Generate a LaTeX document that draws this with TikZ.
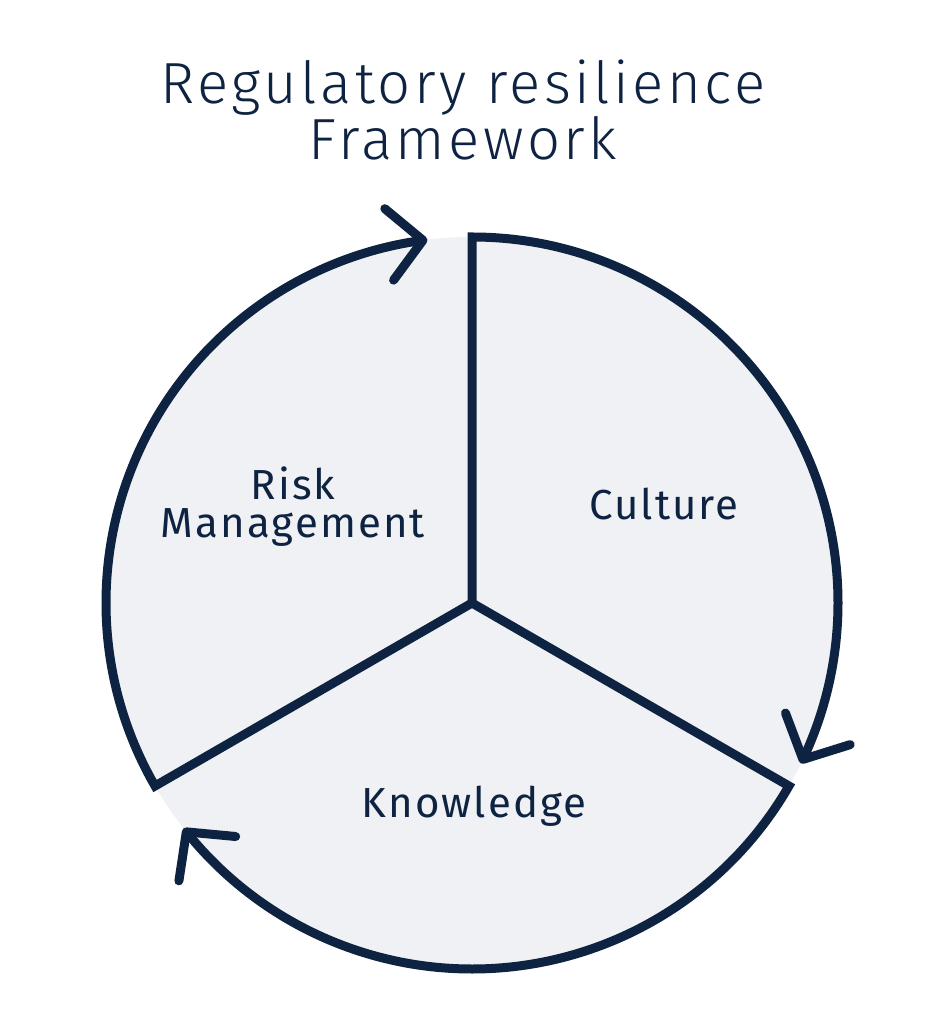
\documentclass[tikz,border=0pt]{standalone}
\usepackage{fontspec}
\setmainfont{Fira Sans}
\newfontfamily\titlefont[LetterSpace=6]{Fira Sans Light}
\newfontfamily\labelfont[LetterSpace=5]{Fira Sans}
\usetikzlibrary{arrows.meta,bending}
\definecolor{navy}{HTML}{0E2341}
\definecolor{panel}{HTML}{EFF1F4}

\begin{document}
\begin{tikzpicture}[x=1pt, y=1pt, line width=9pt,
    spoke/.style={draw=navy, -{Straight Barb[length=34pt, width=72pt, round, flex]}},
    lbl/.style={text=navy, font=\labelfont\fontsize{42}{38}\selectfont, align=center},
    ttl/.style={text=navy, font=\titlefont\fontsize{58}{50}\selectfont, align=center}]
    \useasboundingbox (-472,-421) rectangle (479,603);
    \coordinate (c) at (0,0);
    \coordinate (top) at (90:366);
    \coordinate (right) at (-30:366);
    \coordinate (left) at (210:366);
    \fill[panel] (c) circle[radius=366];
    \draw[spoke] (c) -- (top) arc[start angle=90, end angle=-26, radius=366];
    \draw[spoke] (c) -- (right) arc[start angle=-30, end angle=-142, radius=366];
    \draw[spoke] (c) -- (left) arc[start angle=210, end angle=97, radius=366];
    \node[ttl] (title) at (-9,493) {Regulatory resilience\\Framework};
    \node[lbl] (risk) at (-179,96) {Risk\\Management};
    \node[lbl] (culture) at (192,99) {Culture};
    \node[lbl] (knowledge) at (2,-203) {Knowledge};
\end{tikzpicture}
\end{document}
